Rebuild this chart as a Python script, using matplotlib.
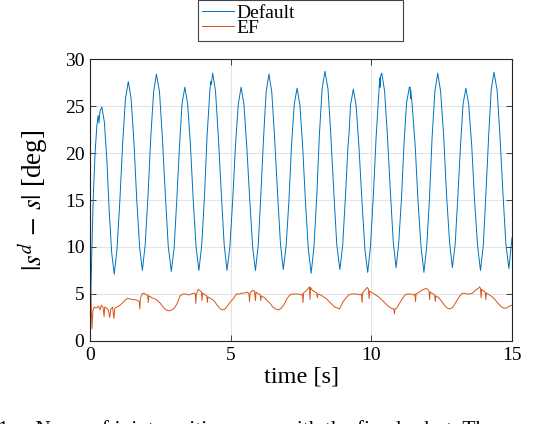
import matplotlib
matplotlib.use("Agg")
import matplotlib.pyplot as plt

plt.rcParams['font.family'] = ['Liberation Serif', 'DejaVu Serif']
plt.rcParams['mathtext.fontset'] = 'stix'

# Default controller: |s^d - s|
t_default = [
    0.00, 0.04, 0.08, 0.12, 0.18, 0.24, 0.29, 0.32, 0.35, 0.42,
    0.51, 0.60, 0.68, 0.77, 0.86,
    0.96, 1.06, 1.16, 1.26, 1.36,
    1.46, 1.56, 1.66, 1.76, 1.86,
    1.96, 2.06, 2.16, 2.26, 2.36,
    2.47, 2.57, 2.68, 2.78, 2.89,
    2.99, 3.08, 3.18, 3.27, 3.37,
    3.47, 3.57, 3.67, 3.77, 3.87,
    3.97, 4.07, 4.16, 4.26, 4.29, 4.31, 4.36,
    4.46, 4.56, 4.67, 4.77, 4.87,
    4.97, 5.07, 5.17, 5.27, 5.37,
    5.47, 5.57, 5.68, 5.78, 5.88,
    5.98, 6.07, 6.17, 6.26, 6.36,
    6.46, 6.56, 6.67, 6.77, 6.87,
    6.97, 7.07, 7.16, 7.26, 7.36,
    7.46, 7.56, 7.66, 7.76, 7.86,
    7.96, 8.06, 8.15, 8.25, 8.35,
    8.46, 8.56, 8.67, 8.77, 8.88,
    8.98, 9.07, 9.17, 9.21, 9.23, 9.26, 9.36,
    9.46, 9.56, 9.67, 9.77, 9.87,
    9.97, 10.07, 10.17, 10.27, 10.30, 10.31, 10.33, 10.37,
    10.47, 10.57, 10.68, 10.78, 10.88,
    10.97, 11.07, 11.16, 11.25, 11.35, 11.38, 11.39, 11.40,
    11.45, 11.56, 11.66, 11.77, 11.87,
    11.97, 12.07, 12.16, 12.26, 12.36,
    12.46, 12.57, 12.67, 12.78, 12.88,
    12.98, 13.07, 13.17, 13.26, 13.36,
    13.46, 13.57, 13.67, 13.78, 13.88,
    13.98, 14.07, 14.17, 14.26, 14.36,
    14.47, 14.57, 14.68, 14.78, 14.89,
    15.00,
]
v_default = [
    0.5, 6.5, 11.5, 15.7, 20.0, 22.8, 24.0, 23.2, 24.4, 24.9,
    23.3, 19.2, 13.9, 9.4, 7.1,
    9.8, 14.9, 21.0, 25.8, 27.6,
    25.8, 21.2, 15.1, 10.1, 7.5,
    10.2, 15.4, 21.7, 26.5, 28.4,
    26.5, 21.7, 15.4, 10.1, 7.4,
    9.9, 14.8, 20.7, 25.2, 27.0,
    25.2, 20.8, 14.9, 10.0, 7.5,
    10.2, 15.5, 21.8, 26.6, 27.6, 27.3, 28.5,
    26.6, 21.8, 15.5, 10.2, 7.5,
    10.0, 14.9, 20.8, 25.2, 27.0,
    25.2, 20.8, 14.9, 10.0, 7.5,
    10.2, 15.4, 21.7, 26.5, 28.4,
    26.5, 21.7, 15.5, 10.3, 7.6,
    10.1, 14.9, 20.7, 25.2, 26.9,
    25.1, 20.6, 14.7, 9.8, 7.2,
    10.0, 15.4, 21.8, 26.8, 28.7,
    26.8, 21.9, 15.6, 10.3, 7.6,
    10.1, 14.9, 20.7, 22.2, 23.4, 25.1, 26.8,
    25.0, 20.6, 14.7, 9.8, 7.3,
    10.1, 15.4, 21.7, 26.6, 28.0, 27.0, 28.2, 28.5,
    26.6, 21.9, 15.7, 10.5, 7.8,
    10.3, 15.1, 20.9, 25.3, 27.0, 27.0, 25.8, 26.7,
    25.2, 20.7, 14.8, 9.9, 7.3,
    10.1, 15.4, 21.7, 26.6, 28.5,
    26.6, 21.9, 15.7, 10.5, 7.8,
    10.3, 15.1, 20.8, 25.2, 26.9,
    25.2, 20.7, 14.9, 10.0, 7.5,
    10.2, 15.5, 21.8, 26.7, 28.6,
    26.7, 21.9, 15.6, 10.4, 7.7,
    11.0,
]

# EF controller
t_ef = [
    0.00, 0.02, 0.05, 0.07, 0.10, 0.15, 0.22, 0.30, 0.36, 0.40,
    0.46, 0.50, 0.52, 0.58, 0.65, 0.70, 0.74, 0.80, 0.85, 0.88,
    0.95, 1.02, 1.10, 1.20, 1.30, 1.40, 1.50, 1.60, 1.70, 1.75,
    1.77, 1.79, 1.85, 1.92, 2.00, 2.05, 2.07, 2.09, 2.20, 2.30,
    2.40, 2.50, 2.60, 2.70, 2.80, 2.90, 3.00, 3.10, 3.20, 3.30,
    3.40, 3.50, 3.60, 3.70, 3.74, 3.76, 3.78, 3.85, 3.92, 3.96,
    3.98, 4.00, 4.10, 4.15, 4.17, 4.19, 4.30, 4.40, 4.50, 4.60,
    4.70, 4.80, 4.90, 5.00, 5.10, 5.20, 5.30, 5.40, 5.50, 5.60,
    5.65, 5.67, 5.69, 5.78, 5.85, 5.88, 5.90, 6.00, 6.05, 6.07,
    6.09, 6.20, 6.30, 6.40, 6.50, 6.60, 6.70, 6.80, 6.90, 7.00,
    7.10, 7.20, 7.30, 7.40, 7.50, 7.55, 7.57, 7.59, 7.70, 7.80,
    7.82, 7.84, 7.90, 8.00, 8.06, 8.08, 8.10, 8.20, 8.30, 8.40,
    8.50, 8.60, 8.70, 8.80, 8.85, 8.90, 9.00, 9.10, 9.20, 9.30,
    9.40, 9.50, 9.60, 9.65, 9.67, 9.69, 9.80, 9.85, 9.90, 9.92,
    9.94, 10.00, 10.10, 10.20, 10.30, 10.40, 10.50, 10.60, 10.70, 10.80,
    10.82, 10.84, 10.90, 11.00, 11.10, 11.20, 11.30, 11.40, 11.50, 11.55,
    11.57, 11.59, 11.70, 11.80, 11.95, 12.00, 12.05, 12.07, 12.09, 12.20,
    12.25, 12.27, 12.29, 12.40, 12.50, 12.60, 12.70, 12.80, 12.90, 13.00,
    13.10, 13.20, 13.30, 13.40, 13.50, 13.60, 13.70, 13.80, 13.85, 13.88,
    13.90, 13.92, 14.00, 14.05, 14.07, 14.09, 14.20, 14.30, 14.40, 14.50,
    14.60, 14.70, 14.80, 14.90, 15.00,
]
v_ef = [
    1.0, 5.6, 3.0, 1.3, 3.2, 3.6, 3.5, 3.7, 3.3, 3.8,
    3.6, 2.6, 3.6, 3.5, 3.3, 2.5, 3.4, 3.6, 2.4, 3.5,
    3.6, 3.7, 3.9, 4.2, 4.5, 4.5, 4.4, 4.4, 4.3, 4.2,
    3.4, 4.5, 5.0, 5.1, 4.9, 4.9, 4.1, 4.8, 4.6, 4.5,
    4.3, 4.0, 3.6, 3.3, 3.2, 3.3, 3.5, 4.0, 4.8, 5.0,
    5.0, 4.9, 5.0, 5.1, 5.0, 4.0, 5.0, 5.5, 5.3, 5.2,
    4.3, 5.1, 4.9, 4.8, 4.1, 4.7, 4.5, 4.3, 3.9, 3.5,
    3.3, 3.4, 3.8, 4.2, 4.5, 5.0, 5.0, 5.1, 5.1, 5.2,
    5.0, 4.2, 5.1, 5.4, 5.3, 4.3, 5.2, 5.0, 4.9, 4.3,
    4.8, 4.6, 4.3, 4.0, 3.6, 3.4, 3.3, 3.5, 3.9, 4.5,
    4.9, 5.0, 5.0, 5.0, 4.9, 5.0, 4.1, 5.1, 5.4, 5.75,
    4.4, 5.7, 5.4, 5.2, 5.1, 4.6, 5.0, 4.9, 4.7, 4.5,
    4.2, 3.9, 3.6, 3.5, 3.4, 3.6, 4.2, 4.6, 4.9, 5.0,
    5.0, 5.0, 4.9, 5.0, 4.1, 5.1, 5.5, 5.7, 5.5, 4.5,
    5.3, 5.2, 5.0, 4.8, 4.6, 4.3, 4.0, 3.7, 3.5, 3.4,
    2.9, 3.4, 3.5, 4.0, 4.5, 4.9, 5.0, 5.0, 4.9, 5.0,
    4.2, 5.0, 5.2, 5.4, 5.6, 5.5, 5.3, 4.4, 5.2, 5.0,
    4.9, 4.2, 4.8, 4.6, 4.2, 3.8, 3.5, 3.4, 3.6, 4.1,
    4.6, 5.0, 5.1, 5.0, 5.0, 5.1, 5.4, 5.6, 5.75, 5.6,
    4.6, 5.5, 5.3, 5.2, 4.4, 5.1, 4.9, 4.7, 4.4, 4.0,
    3.7, 3.5, 3.5, 3.7, 3.8,
]

x_ticks = [0, 5, 10, 15]
y_ticks = [0, 5, 10, 15, 20, 25, 30]

fig = plt.figure(figsize=(5.54, 4.24), dpi=100)
ax = fig.add_axes([0.1625, 0.1958, 0.7617, 0.665])

ax.plot(t_default, v_default, color='#0072BD', linewidth=0.7, label='Default')
ax.plot(t_ef, v_ef, color='#D95319', linewidth=0.7, label='EF')

ax.set_xlim(0, 15)
ax.set_ylim(0, 30)
ax.set_xticks(x_ticks)
ax.set_yticks(y_ticks)
ax.grid(True, color='#e3e3e3', linewidth=0.8)
ax.set_axisbelow(True)
ax.tick_params(direction='in', top=True, right=True, length=4, width=0.6,
               color='#262626', labelsize=14, pad=4)
for sp in ax.spines.values():
    sp.set_color('#262626')
    sp.set_linewidth(0.8)

ax.set_xlabel('time [s]', fontsize=17.5, labelpad=2)
ax.set_ylabel(r'$|s^d\,-\,s|$ [deg]', fontsize=19.5, labelpad=10)

leg = ax.legend(loc='center', bbox_to_anchor=(0.357, 0.906, 0.37, 0.092),
                bbox_transform=fig.transFigure, mode='expand',
                fontsize=14, frameon=True, fancybox=False, framealpha=1,
                edgecolor='#444444', handlelength=1.65, handletextpad=0.15,
                labelspacing=-0.12, borderpad=0.2, borderaxespad=0)
leg.get_frame().set_linewidth(0.8)

fig.text(-0.003, -0.027,
         '1.    Norm of joint position error with the fixed robot. The ca',
         fontsize=15.5, va='baseline', ha='left')

fig.savefig('out.png', dpi=100)
